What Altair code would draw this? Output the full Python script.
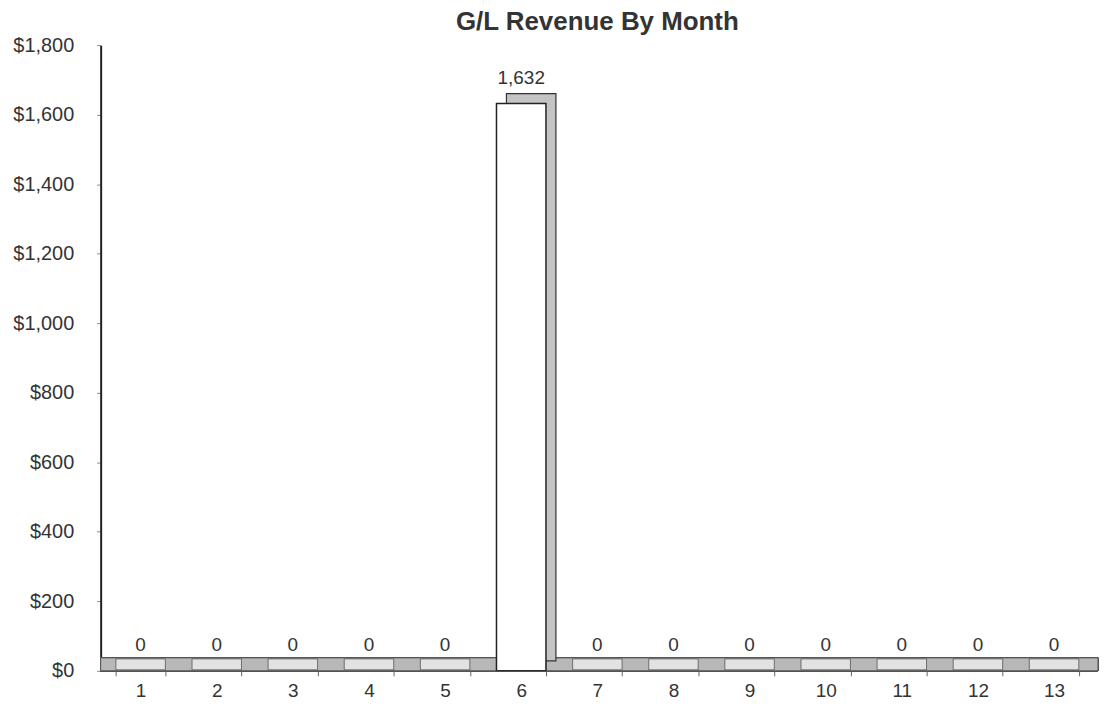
import altair as alt
import pandas as pd

months = [str(i) for i in range(1, 14)]
revenue = [0, 0, 0, 0, 0, 1632, 0, 0, 0, 0, 0, 0, 0]
labels = [f"{v:,}" for v in revenue]
y_ticks = [0, 200, 400, 600, 800, 1000, 1200, 1400, 1600, 1800]

df = pd.DataFrame({"month": months, "revenue": revenue, "label": labels})

W, H = 997, 628
FONT = "Liberation Sans"

x = alt.X("month:N", sort=months, title=None,
          scale=alt.Scale(paddingInner=0.35, paddingOuter=0.2),
          axis=alt.Axis(labelAngle=0, labelFontSize=19, labelColor="#333",
                        labelFont=FONT, tickBand="extent", tickColor="#666",
                        domainColor="#555", labelPadding=6, tickSize=5))
y = alt.Y("revenue:Q", title=None,
          scale=alt.Scale(domain=[0, 1800], nice=False),
          axis=alt.Axis(values=y_ticks, format="$,.0f", grid=False,
                        labelFontSize=20, labelColor="#333", labelFont=FONT,
                        domainColor="#222", domainWidth=2, tickColor="#888",
                        tickSize=4, labelPadding=23))

base = alt.Chart(df)

floor_back = base.mark_rect(color="#b8b8b8", stroke="#555", strokeWidth=1,
                            y2Offset=-13).encode(
    x=alt.value(0), x2=alt.value(W + 4),
    y=alt.datum(0), y2=alt.datum(0))

floor_cells = base.mark_rect(color="#e2e2e2", stroke="#555", strokeWidth=0.8,
                             yOffset=-1, y2Offset=-12).encode(
    x=x, y=alt.datum(0), y2=alt.datum(0))

depth = base.transform_filter("datum.revenue > 0").mark_bar(
    color="#c4c4c4", stroke="#333", strokeWidth=1.2,
    xOffset=10, yOffset=-10).encode(x=x, y=y)

front = base.transform_filter("datum.revenue > 0").mark_bar(
    color="white", stroke="#222", strokeWidth=1.5).encode(x=x, y=y)

text = base.mark_text(dy=-26, fontSize=19, font=FONT, color="#333",
                      baseline="middle").encode(x=x, y=y, text="label:N")

chart = alt.layer(floor_back, floor_cells, depth, front, text).properties(
    width=W, height=H,
    title=alt.TitleParams("G/L Revenue By Month", fontSize=26, font=FONT,
                          fontWeight="bold", color="#333", offset=0),
    padding={"left": 4, "top": 0, "right": 0, "bottom": 0},
).configure_view(stroke=None)

chart.save("out.html", embed_options={"renderer": "svg", "actions": False})
